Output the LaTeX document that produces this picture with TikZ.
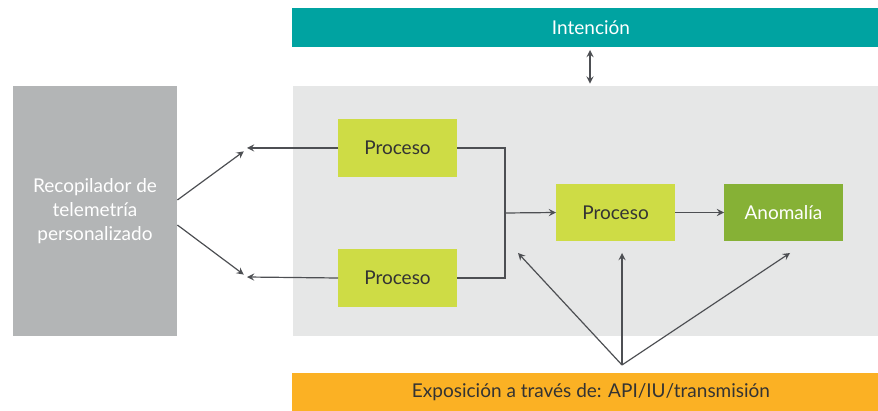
\documentclass[tikz,border=0pt]{standalone}
\usepackage{fontspec}
\setmainfont{Lato}
\usetikzlibrary{positioning}

\definecolor{teal}{HTML}{00A3A1}
\definecolor{panelgray}{HTML}{E6E7E7}
\definecolor{collgray}{HTML}{B3B5B6}
\definecolor{lime}{HTML}{CEDC45}
\definecolor{leaf}{HTML}{86B136}
\definecolor{amber}{HTML}{FBB124}
\definecolor{wire}{HTML}{4D4F53}
\definecolor{ink}{HTML}{333333}

\begin{document}
\begin{tikzpicture}[%
	x=0.5pt,y=-0.5pt,
	every text node part/.style={align=center},
	font=\fontsize{9.5}{12}\selectfont,
	>=stealth,
	node distance=24.5pt,
	bar/.style={%
		rectangle,
		inner sep=0pt,
		outer sep=0pt,
		minimum width=299pt,
		minimum height=19.5pt
	},
	proc/.style={%
		rectangle,
		fill=lime,
		text=ink,
		inner sep=0pt,
		outer sep=0pt,
		minimum width=59.5pt,
		minimum height=28.75pt
	},
	link/.style={%
		draw=wire,
		line width=0.6pt
	}
	]

	\useasboundingbox (0,0) rectangle (878,411);

	% bars run past the right edge of the page
	\node[bar,fill=teal,text=white] (intent) at (591,27.5) {Intención};
	\node[rectangle,fill=panelgray,inner sep=0pt,minimum width=292.5pt,minimum height=125pt] (panel) at (585.5,211) {};
	\node[rectangle,fill=collgray,text=white,inner sep=0pt,minimum width=82pt,minimum height=125pt] (collector) at (95,211) {Recopilador de\\telemetría\\personalizado};
	\node[bar,fill=amber,text=ink,minimum height=19pt] (expo) at (591,392) {Exposición a través de: API/IU/transmisión};

	\node[proc] (procA) at (397.5,148) {Proceso};
	\node[proc] (procB) at (397.5,278) {Proceso};
	\node[proc] (procC) at (615.5,212.5) {Proceso};
	\node[proc,fill=leaf,text=white] (anomaly) [right=of procC] {Anomalía};

	\coordinate (ax) at (590,0);
	\coordinate (outA) at (247,148);
	\coordinate (outB) at (247,277);
	\coordinate (join) at (505,213);
	\coordinate (fan) at (622,365);
	\coordinate (upL) at (518,253);
	\coordinate (upM) at (622,253);
	\coordinate (upR) at (790,253);

	\draw[link,<->,shorten <=1.5pt,shorten >=1pt] (intent.south -| ax) -- (panel.north -| ax);
	\draw[link,->] (procA.west) -- (outA);
	\draw[link,->] (procB.west) -- (outB);
	\draw[link,->,shorten >=2pt] ([yshift=5.5pt]collector.east) -- ([yshift=-0.5pt]outA);
	\draw[link,->,shorten >=2pt] ([yshift=-7pt]collector.east) -- (outB);
	\draw[link] (procA.east) -| (join) |- (procB.east);
	\draw[link,->] (join) -- (procC.west);
	\draw[link,->] (procC) -- (anomaly);
	\draw[link,->] (fan) -- (upL);
	\draw[link,->] (fan) -- (upM);
	\draw[link,->] (fan) -- (upR);
\end{tikzpicture}
\end{document}
